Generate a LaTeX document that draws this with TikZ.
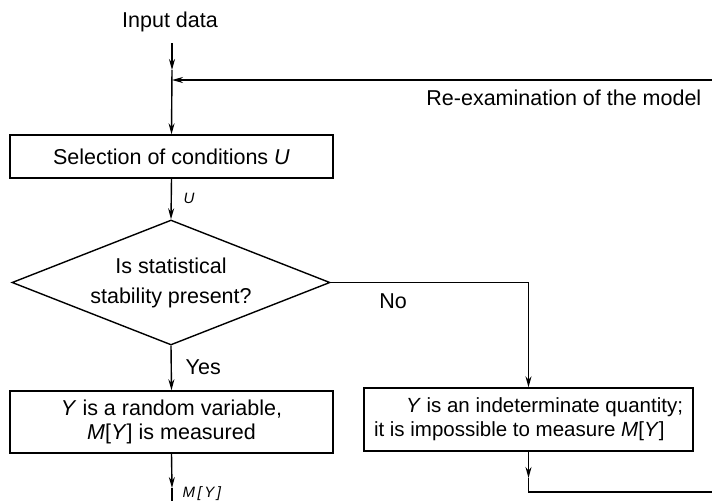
\documentclass[tikz,border=0pt]{standalone}
\usepackage{fontspec}
\setmainfont{Liberation Sans}
\usetikzlibrary{arrows.meta,shapes.geometric}
\begin{document}
\begin{tikzpicture}[x=1pt,y=-1pt,
  line width=1.4pt,
  font=\fontsize{21.5}{24}\selectfont,
  box/.style={draw, inner sep=0pt, rectangle},
  arr/.style={-{Stealth[length=11pt,width=6pt]}},
  lbl/.style={font=\fontsize{15}{17}\selectfont\itshape, anchor=west, inner sep=0pt},
  txt/.style={inner sep=0pt}]
\useasboundingbox (0,0) rectangle (712,501);
% nodes
\node[txt] (in) at (170,22) {Input data};
\node[txt, anchor=east] (retext) at (702,98) {Re-examination of the model};
\node[box, minimum width=323pt, minimum height=43pt] (sel) at (171.5,156.5) {Selection of conditions \textit{U}};
\node[draw, diamond, shape aspect=2.5, inner sep=0pt, minimum width=318pt, minimum height=125pt,
      align=center, font=\fontsize{21.5}{30}\selectfont] (dia) at (171,282.5) {Is statistical\\stability present?};
\node[box, minimum width=323pt, minimum height=62pt, align=center] (rv) at (171.5,422)
  {\textit{Y} is a random variable,\\\textit{M}[\textit{Y}] is measured};
\node[box, minimum width=329pt, minimum height=63pt, align=left, font=\fontsize{20.5}{24}\selectfont] (ind) at (528.5,419.5)
  {\hspace*{32pt}\textit{Y} is an indeterminate quantity;\\it is impossible to measure \textit{M}[\textit{Y}]};
\node[txt] (no) at (393,301) {No};
\node[txt, anchor=west] (yes) at (185,367) {Yes};
\node[lbl] (ulab) at (183,198) {U};
\node[lbl] (mylab) at (182,494) {M\,[\,Y\,]};
% coordinates
\coordinate (in0) at (172,43);
\coordinate (in1) at (172,70);
\coordinate (j) at (172,80);
\coordinate (re) at (712,80);
\coordinate (ia) at (528.5,478);
\coordinate (ib) at (528.5,492);
\coordinate (ic) at (712,492);
\coordinate (ma) at (172,488);
\coordinate (mb) at (172,501);
% connectors
\draw[arr] (in0) -- (in1);
\draw[arr] (in1) -- (sel.north);
\draw[arr] (re) -- (j);
\draw[arr] (sel.south) -- (dia.north);
\draw[arr] (dia.south) -- (rv.north);
\draw[arr] (dia.east) -| (ind.north);
\draw[arr] (ind.south) -- (ia);
\draw (ia) -- (ib) -- (ic);
\draw[arr] (rv.south) -- (ma);
\draw (ma) -- (mb);
\end{tikzpicture}
\end{document}
